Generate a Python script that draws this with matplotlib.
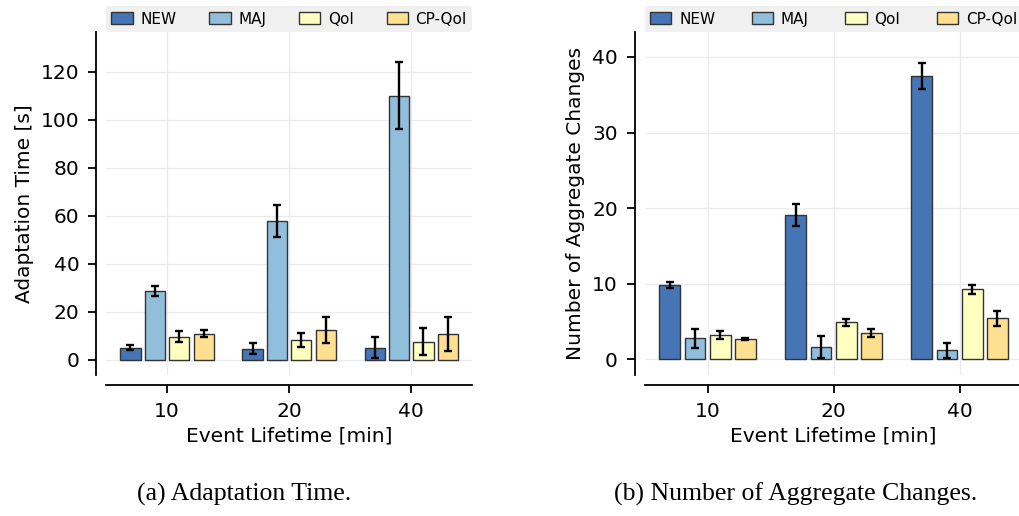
import numpy as np
import matplotlib
matplotlib.use("Agg")
import matplotlib.pyplot as plt

lifetimes = ["10", "20", "40"]
methods = ["NEW", "MAJ", "QoI", "CP-QoI"]
colors = ["#4575b4", "#91bfdb", "#ffffbf", "#fee090"]

# adaptation time [s], one list per method over lifetimes
adapt_mean = {
    "NEW": [5.1, 4.6, 5.0],
    "MAJ": [28.6, 57.8, 110.0],
    "QoI": [9.6, 8.4, 7.6],
    "CP-QoI": [10.9, 12.4, 10.8],
}
adapt_err = {
    "NEW": [0.9, 2.4, 4.4],
    "MAJ": [2.2, 6.8, 13.8],
    "QoI": [2.2, 2.9, 5.7],
    "CP-QoI": [1.3, 5.3, 7.1],
}

# number of aggregate changes
changes_mean = {
    "NEW": [9.8, 19.1, 37.5],
    "MAJ": [2.75, 1.65, 1.2],
    "QoI": [3.2, 4.9, 9.25],
    "CP-QoI": [2.7, 3.5, 5.45],
}
changes_err = {
    "NEW": [0.4, 1.45, 1.7],
    "MAJ": [1.25, 1.45, 1.0],
    "QoI": [0.5, 0.45, 0.6],
    "CP-QoI": [0.15, 0.5, 1.0],
}

plt.rcParams["font.family"] = "DejaVu Sans"
plt.rcParams["font.size"] = 14

fig = plt.figure(figsize=(10.2, 5.16), dpi=100)
ax1 = fig.add_axes([0.104, 0.273, 0.359, 0.665])
ax2 = fig.add_axes([0.632, 0.273, 0.3706, 0.665])


def draw(ax, means, errs, ylabel, ylim, yticks):
    x = np.arange(len(lifetimes))
    step = 0.2
    for i, m in enumerate(methods):
        pos = x + (i - 1.5) * step
        ax.bar(pos, means[m], width=0.165, color=colors[i], edgecolor="#333333",
               linewidth=1.0, label=m, zorder=3)
        ax.errorbar(pos, means[m], yerr=errs[m], fmt="none", ecolor="black",
                    elinewidth=1.7, capsize=3, capthick=1.7, zorder=4)
    ax.set_xlim(-0.5, 2.5)
    ax.set_ylim(*ylim)
    ax.set_xticks(x)
    ax.set_xticklabels(lifetimes)
    ax.set_yticks(yticks)
    ax.set_xlabel("Event Lifetime [min]", labelpad=4, fontsize=14.5)
    ax.set_ylabel(ylabel, fontsize=14.5, labelpad=5)
    ax.grid(True, color="#ebebeb", linewidth=1.0, zorder=0)
    ax.set_axisbelow(True)
    for s in ["top", "right"]:
        ax.spines[s].set_visible(False)
    for s in ["left", "bottom"]:
        ax.spines[s].set_position(("outward", 7.2))
        ax.spines[s].set_linewidth(1.3)
    ax.tick_params(axis="both", length=6, width=1.3, pad=6, labelsize=14.5)
    leg = ax.legend(loc="lower left", bbox_to_anchor=(0, 1.0, 1, 0.08), ncol=4,
                    mode="expand", borderaxespad=0, fontsize=11, frameon=True,
                    fancybox=True, handlelength=1.4, handleheight=0.8,
                    handletextpad=0.5, borderpad=0.35)
    leg.get_frame().set_facecolor("#f0f0f0")
    leg.get_frame().set_edgecolor("none")
    leg.get_frame().set_alpha(1)


draw(ax1, adapt_mean, adapt_err, "Adaptation Time [s]", (-6.4, 136.5),
     [0, 20, 40, 60, 80, 100, 120])
draw(ax2, changes_mean, changes_err, "Number of Aggregate Changes", (-2.1, 43.3),
     [0, 10, 20, 30, 40])

fig.text(0.239, 0.03, "(a) Adaptation Time.", ha="center", fontsize=18.5,
         family="Liberation Serif")
fig.text(0.780, 0.03, "(b) Number of Aggregate Changes.", ha="center", fontsize=18.5,
         family="Liberation Serif")

fig.savefig("out.png", dpi=100)
